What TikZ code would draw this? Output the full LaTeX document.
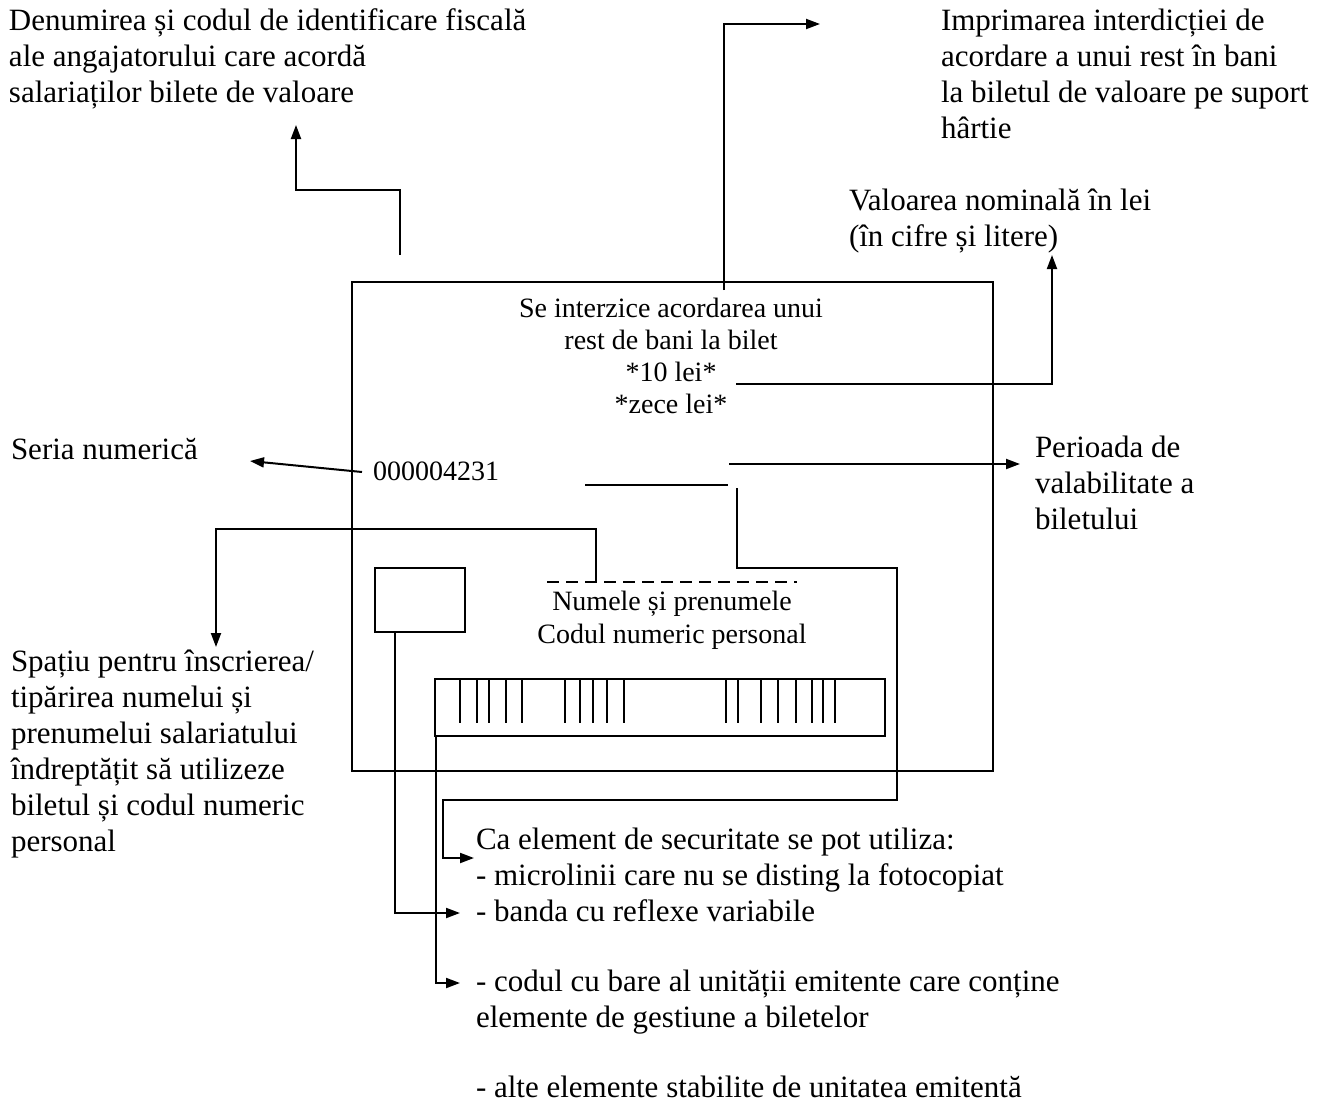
\documentclass[tikz,border=0pt]{standalone}
\usepackage{fontspec}
\setmainfont{Liberation Serif}
\usetikzlibrary{arrows.meta}
\begin{document}
\begin{tikzpicture}[x=0.5pt,y=-0.5pt,line width=1pt,
  big/.style={font=\fontsize{15.5}{18}\selectfont,inner sep=0pt,align=left,anchor=base west},
  small/.style={font=\fontsize{14}{16}\selectfont,inner sep=0pt},
  arr/.style={-{Triangle[length=7pt,width=5pt]}},
  box/.style={draw,line width=1pt,inner sep=0pt}]
\useasboundingbox (0,0) rectangle (1323,1104);
% ticket
\draw (352,282) rectangle (993,771);
\node[box,minimum width=45pt,minimum height=32pt,anchor=north west] (photo) at (374,567) {};
\node[box,minimum width=225pt,minimum height=28.5pt,anchor=north west] (bar) at (434,678) {};
\foreach \bx in {460,477,489,506,522,565,580,593,607,624,726,738,761,778,796,812,823,835}
  \draw (\bx,679) -- (\bx,723);
% texts (anchored at the baseline of their last line)
\node[big] (emp) at (8,102) {Denumirea și codul de identificare fiscală\\ale angajatorului care acordă\\salariaților bilete de valoare};
\node[big] (impr) at (940,138) {Imprimarea interdicției de\\acordare a unui rest în bani\\la biletul de valoare pe suport\\hârtie};
\node[big] (val) at (848,246) {Valoarea nominală în lei\\(în cifre și litere)};
\node[big] (seria) at (10,459) {Seria numerică};
\node[big] (per) at (1034,529) {Perioada de\\valabilitate a\\biletului};
\node[big] (spa) at (10,851) {Spațiu pentru înscrierea/\\tipărirea numelui și\\prenumelui salariatului\\îndreptățit să utilizeze\\biletul și codul numeric\\personal};
\node[big] (sec) at (475,1097) {Ca element de securitate se pot utiliza:\\- microlinii care nu se disting la fotocopiat\\- banda cu reflexe variabile\\[17pt]- codul cu bare al unității emitente care conține\\elemente de gestiune a biletelor\\[17pt]- alte elemente stabilite de unitatea emitentă};
\node[small,align=center,anchor=base] (inter) at (671,413) {Se interzice acordarea unui\\rest de bani la bilet\\*10 lei*\\*zece lei*};
\node[small,anchor=base west] (nr) at (372,480) {000004231};
\node[small,align=center,anchor=base] (nume) at (672,643) {Numele și prenumele\\[0.5pt]Codul numeric personal};
% dashed line
\draw[dash pattern=on 6pt off 3.5pt,line width=0.8pt] (547,582) coordinate (dl) -- (797,582) coordinate (dr);
% connectors
\draw[arr] (400,255) -- (400,190) -- (296,190) -- (296,125);
\draw[arr] (724,290) -- (724,24) -- (820,24);
\draw[arr] (736,384) -- (1052,384) -- (1052,255);
\draw[arr] (362,472) -- (250,461);
\draw (585,485) -- (728,485);
\draw[arr] (729,464) -- (1020,464);
\draw[arr] (737,488) -- (737,568) -- (897,568) -- (897,800) -- (443,800) -- (443,858) -- (474,858);
\draw[arr] (596,582) -- (596,529) -- (216,529) -- (216,647);
\draw[arr] (photo.south -| 395,0) -- (395,913) -- (460,913);
\draw[arr] (bar.south west) ++(2,0) -- (436,983) -- (460,983);
\end{tikzpicture}
\end{document}
